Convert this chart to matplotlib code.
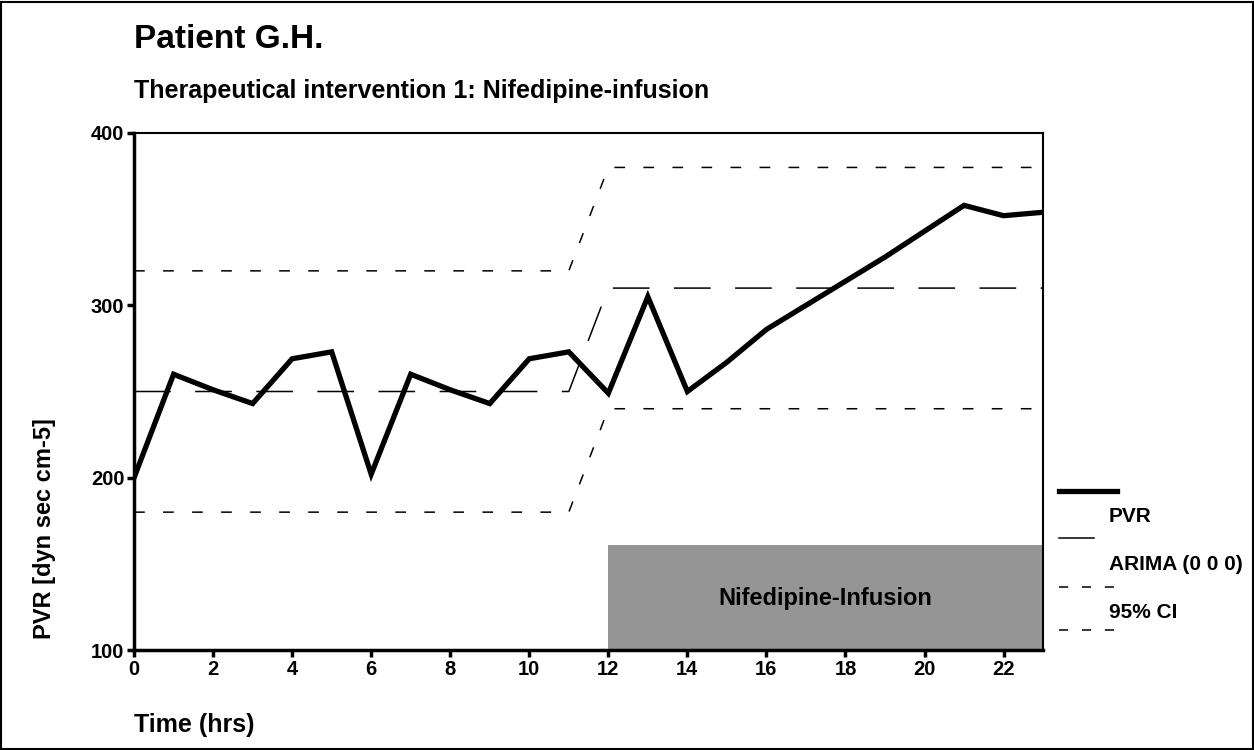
import matplotlib
matplotlib.use("Agg")
import matplotlib.pyplot as plt
from matplotlib.lines import Line2D
from matplotlib.patches import Rectangle

plt.rcParams['font.family'] = ['Liberation Sans', 'DejaVu Sans']
plt.rcParams['font.weight'] = 'bold'

# PVR measurements per hour
hours = list(range(0, 24))
pvr = [200, 260, 251, 243, 269, 273, 202, 260, 251, 243, 269, 273,
       249, 305, 250, 267, 286, 300, 314, 328, 343, 358, 352, 354]

# ARIMA (0 0 0) model level and 95% confidence band
model_x = [0, 11, 12, 23]
arima = [250, 250, 310, 310]
ci_upper = [320, 320, 380, 380]
ci_lower = [180, 180, 240, 240]

# infusion period
infusion_start, infusion_end = 12, 23
infusion_top = 161

x_ticks = list(range(0, 23, 2))
y_ticks = [100, 200, 300, 400]

fig = plt.figure(figsize=(12.54, 7.5), dpi=100)
ax = fig.add_axes([0.1069, 0.1333, 0.7249, 0.6894])

ax.add_patch(Rectangle((infusion_start, 100), infusion_end - infusion_start,
                       infusion_top - 100, facecolor='#959595', edgecolor='none', zorder=1))
ax.text((infusion_start + infusion_end) / 2, 130, 'Nifedipine-Infusion',
        ha='center', va='center', fontsize=17, fontweight='bold', zorder=2)

ax.plot(model_x, ci_upper, color='black', lw=1.1, dashes=(7, 12), zorder=3)
ax.plot(model_x, ci_lower, color='black', lw=1.1, dashes=(7, 12), zorder=3)
ax.plot(model_x, arima, color='black', lw=1.1, dashes=(24, 16), zorder=3)
ax.plot(hours, pvr, color='black', lw=3.8, solid_joinstyle='miter', zorder=4)

ax.set_xlim(0, 23)
ax.set_ylim(100, 400)
ax.set_xticks(x_ticks)
ax.set_yticks(y_ticks)
ax.tick_params(direction='out', length=5, width=2.5, labelsize=14.5, pad=2)
for lab in ax.get_xticklabels() + ax.get_yticklabels():
    lab.set_fontweight('bold')
for sp in ax.spines.values():
    sp.set_linewidth(1.5)
ax.spines['left'].set_linewidth(2.5)
ax.spines['bottom'].set_linewidth(2.5)


def fx(px):
    return px / 1254


def fy(py):
    return 1 - py / 750


fig.text(fx(45), fy(529), 'PVR [dyn sec cm-5]', fontsize=17, fontweight='bold',
         rotation=90, ha='center', va='center')
fig.text(fx(134), fy(39), 'Patient G.H.', fontsize=24, fontweight='bold',
         ha='left', va='center')
fig.text(fx(134), fy(91), 'Therapeutical intervention 1: Nifedipine-infusion',
         fontsize=18, fontweight='bold', ha='left', va='center')
fig.text(fx(134), fy(725), 'Time (hrs)', fontsize=18, fontweight='bold',
         ha='left', va='center')

# legend drawn by hand on the right
fig.add_artist(Line2D([fx(1059), fx(1117)], [fy(491), fy(491)], color='black', lw=3.8))
fig.add_artist(Line2D([fx(1059), fx(1094)], [fy(538), fy(538)], color='black', lw=1.1))
fig.add_artist(Line2D([fx(1059), fx(1117)], [fy(587), fy(587)], color='black', lw=1.1, dashes=(6, 9)))
fig.add_artist(Line2D([fx(1059), fx(1117)], [fy(630), fy(630)], color='black', lw=1.1, dashes=(6, 9)))
fig.text(fx(1109), fy(516), 'PVR', fontsize=15, fontweight='bold', ha='left', va='center')
fig.text(fx(1109), fy(565), 'ARIMA (0 0 0)', fontsize=15, fontweight='bold', ha='left', va='center')
fig.text(fx(1109), fy(613), '95% CI', fontsize=15, fontweight='bold', ha='left', va='center')

# outer frame
fig.add_artist(Rectangle((0.001, 0.001), 0.998, 0.997, transform=fig.transFigure,
                         fill=False, edgecolor='black', lw=1.5))

fig.savefig('out.png', dpi=100)
